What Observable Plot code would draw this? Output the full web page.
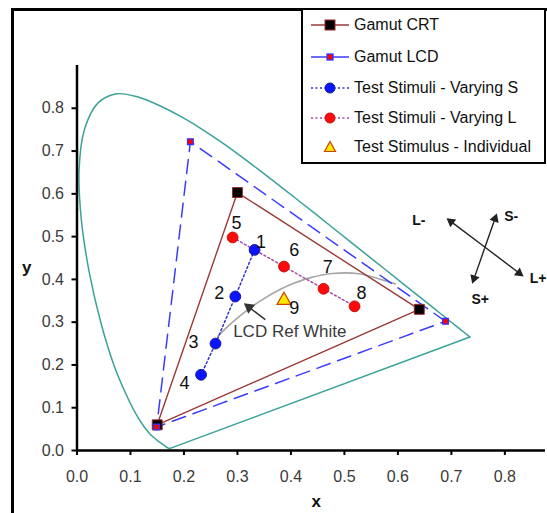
<!DOCTYPE html>
<html><head><meta charset="utf-8">
<script src="https://cdn.jsdelivr.net/npm/d3@7"></script>
<script src="https://cdn.jsdelivr.net/npm/@observablehq/plot@0.6"></script>
<style>
body{margin:0;background:#fff;font-family:"Liberation Sans",Arial,sans-serif;}
#wrap{position:relative;width:547px;height:513px;overflow:hidden;background:#fff;}
#frame{position:absolute;left:11px;top:8px;width:700px;height:700px;border-left:3px solid #000;border-top:3px solid #000;pointer-events:none;}
#legend{position:absolute;left:301px;top:8px;width:241px;height:152px;border:2px solid #000;background:#fff;}
.row{position:absolute;left:0;height:20px;display:flex;align-items:center;font-size:16px;color:#111;white-space:nowrap;}
.row svg{margin-left:8px;margin-right:5px;}
</style>
</head><body>
<div id="wrap"><div id="chart"></div><div id="frame"></div><div id="legend"></div></div>
<script>
// CIE 1931 spectral locus (380-700 nm)
const locusX = [0.1741,0.1738,0.1733,0.1726,0.1714,0.1703,0.1689,0.1669,0.1644,0.1611,0.1566,0.1510,0.1440,0.1355,0.1241,0.1096,0.0913,0.0687,0.0454,0.0235,0.0082,0.0039,0.0139,0.0389,0.0743,0.1142,0.1547,0.1929,0.2296,0.2658,0.3016,0.3373,0.3731,0.4087,0.4441,0.4788,0.5125,0.5448,0.5752,0.6029,0.6270,0.6482,0.6658,0.6801,0.6915,0.7006,0.7079,0.7140,0.7190,0.7230,0.7260,0.7283,0.7300,0.7320,0.7347];
const locusY = [0.0050,0.0049,0.0048,0.0048,0.0051,0.0058,0.0069,0.0086,0.0109,0.0138,0.0177,0.0227,0.0297,0.0399,0.0578,0.0868,0.1327,0.2007,0.2950,0.4127,0.5384,0.6548,0.7502,0.8120,0.8338,0.8262,0.8059,0.7816,0.7543,0.7243,0.6923,0.6589,0.6245,0.5896,0.5547,0.5202,0.4866,0.4544,0.4242,0.3965,0.3725,0.3514,0.3340,0.3197,0.3083,0.2993,0.2920,0.2859,0.2809,0.2770,0.2740,0.2717,0.2700,0.2680,0.2653];
// Planckian locus (15000 K .. 1500 K)
const planckX = [0.2637,0.2807,0.2952,0.3064,0.3221,0.3451,0.3805,0.4053,0.4369,0.4770,0.5267,0.5857,0.5950];
const planckY = [0.2674,0.2884,0.3048,0.3166,0.3318,0.3516,0.3768,0.3907,0.4041,0.4137,0.4133,0.3931,0.3895];
// Gamuts (R, G, B)
const crtX = [0.640,0.300,0.150];
const crtY = [0.330,0.603,0.060];
const lcdX = [0.689,0.212,0.149];
const lcdY = [0.302,0.722,0.055];
// Test stimuli
const sX = [0.332,0.296,0.259,0.232];
const sY = [0.469,0.360,0.250,0.177];
const lX = [0.291,0.387,0.461,0.519];
const lY = [0.498,0.430,0.378,0.337];
const indX = [0.387];
const indY = [0.351];
// number labels (data units)
const numLabelX = [0.344,0.266,0.218,0.201,0.298,0.406,0.469,0.532,0.406];
const numLabelY = [0.488,0.368,0.252,0.157,0.531,0.468,0.428,0.368,0.332];
const numLabels = ["1","2","3","4","5","6","7","8","9"];
// direction arrows (ends L-, L+, S-, S+)
const dirEndsX = [0.691,0.835,0.785,0.739];
const dirEndsY = [0.543,0.407,0.554,0.390];
const dirLabels = ["L-","L+","S-","S+"];
const dirLabelX = [0.639,0.862,0.812,0.754];
const dirLabelY = [0.537,0.402,0.546,0.354];
// ref white annotation
const refText = "LCD Ref White";
const refTextX = [0.398], refTextY = [0.277];
const refArrowX = [0.352,0.312], refArrowY = [0.306,0.344];
// ticks
const xTicks = [0,0.1,0.2,0.3,0.4,0.5,0.6,0.7,0.8];
const yTicks = [0,0.1,0.2,0.3,0.4,0.5,0.6,0.7,0.8];
const legendLabels = ["Gamut CRT","Gamut LCD","Test Stimuli - Varying S","Test Stimuli - Varying L","Test Stimulus - Individual"];

const W = 547, H = 513, mL = 76.5, mR = 2, mT = 65, mB = 63;
const xDom = [0,0.876], yDom = [0,0.9];
const kx = (W-mL-mR)/(xDom[1]-xDom[0]), ky = (H-mT-mB)/(yDom[1]-yDom[0]);

const pts = (X,Y) => X.map((x,i)=>({x, y:Y[i]}));
const locus = pts(locusX, locusY);
const purple = [locus[locus.length-1], locus[0]];
const planck = pts(planckX, planckY);
const closed = (X,Y) => { const p = pts(X,Y); return p.concat([p[0]]); };
const crt = closed(crtX, crtY);
const lcd = closed(lcdX, lcdY);
const sPts = pts(sX, sY);
const lPts = pts(lX, lY);
const indPts = pts(indX, indY);
const numL = numLabels.map((t,i)=>({t, x:numLabelX[i], y:numLabelY[i]}));
const mid = (a,b)=>(a+b)/2;
const dirArrows = [];
for (let k=0;k<2;k++){
  const cx = mid(dirEndsX[2*k],dirEndsX[2*k+1]), cy = mid(dirEndsY[2*k],dirEndsY[2*k+1]);
  dirArrows.push({x1:cx,y1:cy,x2:dirEndsX[2*k],y2:dirEndsY[2*k]});
  dirArrows.push({x1:cx,y1:cy,x2:dirEndsX[2*k+1],y2:dirEndsY[2*k+1]});
}
const refArrows = [{x1:refArrowX[0],y1:refArrowY[0],x2:refArrowX[1],y2:refArrowY[1]}];
// filled arrow heads: shorten the shaft and place a rotated triangle
function heads(arrows, r){
  const h = r*Math.sqrt(Math.PI*4/Math.sqrt(3))*Math.sqrt(3)/2; // triangle height
  const d = h*2/3;
  return arrows.map(a=>{
    const vx = (a.x2-a.x1)*kx, vy = -(a.y2-a.y1)*ky;
    const L = Math.hypot(vx,vy), ux = vx/L, uy = vy/L;
    const hx = a.x2 - ux*d/kx, hy = a.y2 + uy*d/ky;
    return {x1:a.x1, y1:a.y1, x2:hx, y2:hy, hx, hy, rot: Math.atan2(ux,-uy)*180/Math.PI};
  });
}
const dirH = heads(dirArrows, 3.6);
const refH = heads(refArrows, 4.2);

const chart = Plot.plot({
  width: W, height: H,
  marginLeft: mL, marginRight: mR, marginTop: mT, marginBottom: mB,
  x: {domain:xDom},
  y: {domain:yDom},
  style: {fontFamily:"'Liberation Sans', Arial, sans-serif", fontSize:"16px", background:"transparent"},
  marks: [
    Plot.line(locus, {x:"x", y:"y", stroke:"#3aa397", strokeWidth:1.5, curve:"catmull-rom"}),
    Plot.line(purple, {x:"x", y:"y", stroke:"#3aa397", strokeWidth:1.5}),
    Plot.line(planck, {x:"x", y:"y", stroke:"#a6a6a6", strokeWidth:1.6, curve:"catmull-rom"}),
    Plot.line(lcd, {x:"x", y:"y", stroke:"#3b3bff", strokeWidth:1.5, strokeDasharray:"14,8"}),
    Plot.line(crt, {x:"x", y:"y", stroke:"#9a3a36", strokeWidth:1.4}),
    Plot.line(sPts, {x:"x", y:"y", stroke:"#3232c8", strokeWidth:1.5, strokeDasharray:"2,2.5"}),
    Plot.line(lPts, {x:"x", y:"y", stroke:"#a84aa8", strokeWidth:1.5, strokeDasharray:"2,2.5"}),
    Plot.dot(pts(crtX,crtY), {x:"x", y:"y", symbol:"square", r:5.6, fill:"#000", stroke:"#9a2a26", strokeWidth:1}),
    Plot.dot(pts(lcdX,lcdY), {x:"x", y:"y", symbol:"square", r:3.2, fill:"#ff0000", stroke:"#3333ff", strokeWidth:1.3}),
    Plot.dot(sPts, {x:"x", y:"y", r:5.4, fill:"#0a14ff", stroke:"#1a1a90", strokeWidth:1}),
    Plot.dot(lPts, {x:"x", y:"y", r:5.4, fill:"#ff0a0a", stroke:"#c01010", strokeWidth:1}),
    Plot.dot(indPts, {x:"x", y:"y", symbol:"triangle", r:5.2, fill:"#ffe800", stroke:"#d04000", strokeWidth:1.2}),
    Plot.text(numL, {x:"x", y:"y", text:"t", fontSize:18, fill:"#111"}),
    Plot.text([refText], {x:()=>refTextX[0], y:()=>refTextY[0], text:d=>d, fontSize:17, fill:"#3a3a3a"}),
    Plot.link(refH, {x1:"x1", y1:"y1", x2:"x2", y2:"y2", stroke:"#333", strokeWidth:1.5}),
    Plot.dot(refH, {x:"hx", y:"hy", rotate:"rot", symbol:"triangle", r:4.2, fill:"#333", stroke:"none"}),
    Plot.link(dirH, {x1:"x1", y1:"y1", x2:"x2", y2:"y2", stroke:"#222", strokeWidth:1.4}),
    Plot.dot(dirH, {x:"hx", y:"hy", rotate:"rot", symbol:"triangle", r:3.6, fill:"#222", stroke:"none"}),
    Plot.text(dirLabels.map((t,i)=>({t,x:dirLabelX[i],y:dirLabelY[i]})), {x:"x", y:"y", text:"t", fontSize:14, fontWeight:"bold", fill:"#111"}),
    Plot.axisX({ticks:xTicks, tickFormat:d=>d.toFixed(1), tickSize:5, tickPadding:15, strokeWidth:2, stroke:"#000", fill:"#3a3a3a", fontSize:16, label:null}),
    Plot.axisY({ticks:yTicks, tickFormat:d=>d.toFixed(1), tickSize:5, tickPadding:8, strokeWidth:2, stroke:"#000", fill:"#3a3a3a", fontSize:16, label:null}),
    Plot.ruleY([0], {stroke:"#000", strokeWidth:2.5}),
    Plot.ruleX([0], {stroke:"#000", strokeWidth:2.5}),
    Plot.text(["x"], {frameAnchor:"bottom", text:d=>d, dx:5, dy:56, fontSize:17, fontWeight:"bold", fill:"#111"}),
    Plot.text(["y"], {frameAnchor:"left", text:d=>d, dx:-55, dy:10, fontSize:17, fontWeight:"bold", fill:"#111"})
  ]
});
document.getElementById("chart").appendChild(chart);

// legend
const swatches = [
  `<line x1="0" y1="8" x2="38" y2="8" stroke="#9a3a36" stroke-width="1.5"/><rect x="14" y="3" width="10" height="10" fill="#000" stroke="#9a2a26"/>`,
  `<line x1="0" y1="8" x2="38" y2="8" stroke="#3b3bff" stroke-width="1.5"/><rect x="16" y="5" width="6" height="6" fill="#ff0000" stroke="#3333ff" stroke-width="1.3"/>`,
  `<line x1="0" y1="8" x2="38" y2="8" stroke="#3232c8" stroke-width="1.5" stroke-dasharray="2,2.5"/><circle cx="19" cy="8" r="5" fill="#0a14ff" stroke="#1a1a90"/>`,
  `<line x1="0" y1="8" x2="38" y2="8" stroke="#a84aa8" stroke-width="1.5" stroke-dasharray="2,2.5"/><circle cx="19" cy="8" r="5" fill="#ff0a0a" stroke="#c01010"/>`,
  `<path d="M19,2.5 L24.5,12.5 L13.5,12.5 Z" fill="#ffe800" stroke="#d04000" stroke-width="1.2"/>`
];
const rowCenters = [15,47,78,108,137];
const leg = document.getElementById("legend");
legendLabels.forEach((lab,i)=>{
  const r = document.createElement("div");
  r.className = "row";
  r.style.top = (rowCenters[i]-10)+"px";
  r.innerHTML = `<svg width="38" height="16">${swatches[i]}</svg><span>${lab}</span>`;
  leg.appendChild(r);
});
</script>
</body></html>
